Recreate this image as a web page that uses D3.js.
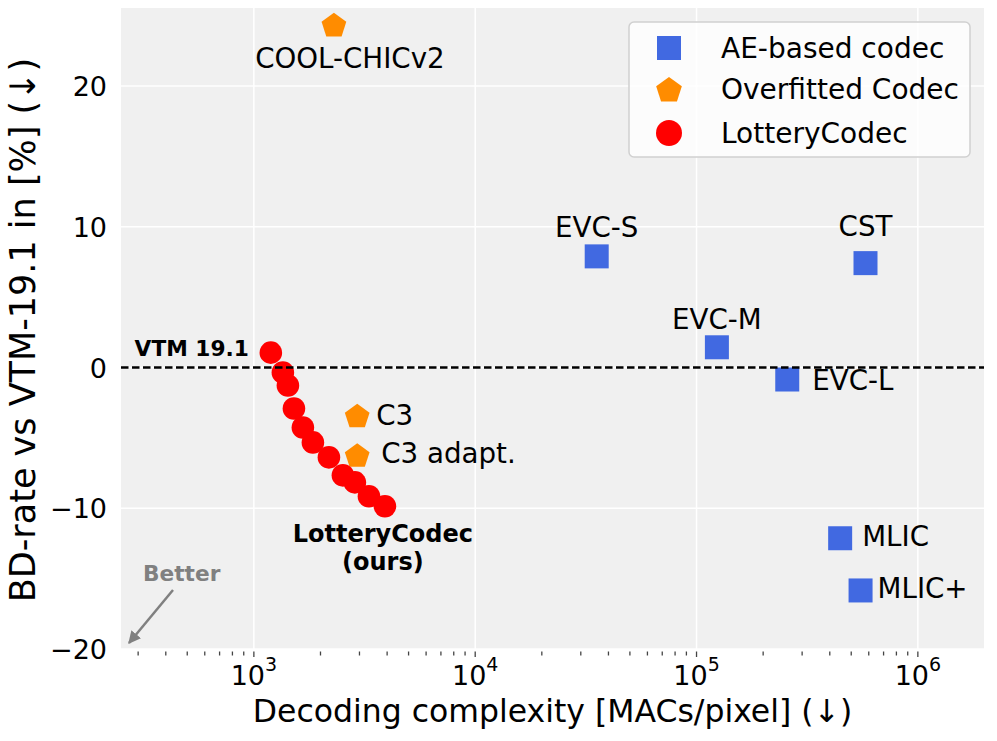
<!DOCTYPE html>
<html>
<head>
<meta charset="utf-8">
<script src="https://cdn.jsdelivr.net/npm/d3@7"></script>
<style>
  body { margin: 0; background: #fff; }
  text { font-family: "DejaVu Sans", sans-serif; }
</style>
</head>
<body>
<svg id="chart" width="997" height="741"></svg>
<script>
// LotteryCodec operating points
var lotteryMacs = [1193, 1352, 1425, 1517, 1665, 1848, 2183, 2525, 2860, 3311, 3909];
var lotteryBd = [1.06, -0.35, -1.28, -2.91, -4.26, -5.32, -6.38, -7.66, -8.16, -9.15, -9.86];

// AE-based codecs
var aeNames = ["EVC-S", "EVC-M", "EVC-L", "CST", "MLIC", "MLIC+"];
var aeMacs = [35400, 123600, 257000, 580000, 445600, 551000];
var aeBd = [7.9, 1.44, -0.85, 7.42, -12.13, -15.84];

// overfitted codecs
var ofNames = ["COOL-CHICv2", "C3", "C3 adapt."];
var ofMacs = [2300, 2930, 2930];
var ofBd = [24.28, -3.5, -6.31];

var xTicks = [1e3, 1e4, 1e5, 1e6];
var yTicks = [-20, -10, 0, 10, 20];
var legendLabels = ["AE-based codec", "Overfitted Codec", "LotteryCodec"];

// label placement (pixel offsets from the point)
var labelPos = {
  "COOL-CHICv2": [16, 42, "middle"],
  "C3": [19, 8, "start"],
  "C3 adapt.": [24, 7, "start"],
  "EVC-S": [0, -19, "middle"],
  "EVC-M": [0, -18, "middle"],
  "EVC-L": [25, 10, "start"],
  "CST": [0, -27, "middle"],
  "MLIC": [22, 8, "start"],
  "MLIC+": [17, 8, "start"]
};

var blue = "#4169e1", orange = "#ff8c00", red = "#ff0000";

var svg = d3.select("#chart");
var m = {left: 121, right: 984, top: 8, bottom: 649};

var x = d3.scaleLog().domain([251, 1.99e6]).range([m.left, m.right]);
var y = d3.scaleLinear().domain([-20, 25.55]).range([m.bottom, m.top]);

svg.append("rect")
   .attr("x", m.left).attr("y", m.top)
   .attr("width", m.right - m.left).attr("height", m.bottom - m.top)
   .attr("fill", "#f0f0f0");

// grid
var grid = svg.append("g");
grid.selectAll(".gx").data(xTicks).enter().append("line")
    .attr("x1", function(d) { return x(d); }).attr("x2", function(d) { return x(d); })
    .attr("y1", m.top).attr("y2", m.bottom)
    .attr("stroke", "#fff").attr("stroke-width", 1.5);
grid.selectAll(".gy").data(yTicks).enter().append("line")
    .attr("x1", m.left).attr("x2", m.right)
    .attr("y1", function(d) { return y(d); }).attr("y2", function(d) { return y(d); })
    .attr("stroke", "#fff").attr("stroke-width", 1.5);

// x axis ticks (major + minor)
var allTicks = x.ticks().filter(function(d) { return d >= 251 && d <= 1.99e6; });
svg.append("g").selectAll("line").data(allTicks).enter().append("line")
   .attr("x1", function(d) { return x(d); }).attr("x2", function(d) { return x(d); })
   .attr("y1", m.bottom + 2.5)
   .attr("y2", function(d) { return xTicks.indexOf(d) >= 0 ? m.bottom + 8 : m.bottom + 6.5; })
   .attr("stroke", "#444").attr("stroke-width", 1.3);

var xl = svg.append("g").selectAll("text").data(xTicks).enter().append("text")
   .attr("x", function(d) { return x(d); })
   .attr("y", 685)
   .attr("text-anchor", "middle")
   .attr("font-size", 27);
xl.append("tspan").text("10");
xl.append("tspan").attr("dy", -14).attr("font-size", 19)
  .text(function(d) { return Math.round(Math.log10(d)); });

svg.append("g").selectAll("text").data(yTicks).enter().append("text")
   .attr("x", 107)
   .attr("y", function(d) { return y(d) + 10; })
   .attr("text-anchor", "end")
   .attr("font-size", 27)
   .text(function(d) { return d < 0 ? "\u2212" + Math.abs(d) : d; });

svg.append("text")
   .attr("x", (m.left + m.right) / 2).attr("y", 722)
   .attr("text-anchor", "middle").attr("font-size", 31.5)
   .text("Decoding complexity [MACs/pixel] (\u2193)");

svg.append("text")
   .attr("transform", "translate(35,330) rotate(-90)")
   .attr("text-anchor", "middle").attr("font-size", 35)
   .text("BD-rate vs VTM-19.1 in [%] (\u2193)");

function pentagon(r) {
  var pts = d3.range(5).map(function(i) {
    var a = -Math.PI / 2 + i * 2 * Math.PI / 5;
    return [r * Math.cos(a), r * Math.sin(a)];
  });
  return "M" + pts.join("L") + "Z";
}

// AE squares
svg.append("g").selectAll("rect").data(aeNames).enter().append("rect")
   .attr("x", function(d, i) { return x(aeMacs[i]) - 12; })
   .attr("y", function(d, i) { return y(aeBd[i]) - 12; })
   .attr("width", 24).attr("height", 24)
   .attr("fill", blue);

// overfitted pentagons
svg.append("g").selectAll("path").data(ofNames).enter().append("path")
   .attr("transform", function(d, i) { return "translate(" + x(ofMacs[i]) + "," + y(ofBd[i]) + ")"; })
   .attr("d", pentagon(13))
   .attr("fill", orange);

// LotteryCodec
svg.append("g").selectAll("circle").data(lotteryMacs).enter().append("circle")
   .attr("cx", function(d) { return x(d); })
   .attr("cy", function(d, i) { return y(lotteryBd[i]); })
   .attr("r", 11.3)
   .attr("fill", red);

// VTM reference
svg.append("line")
   .attr("x1", m.left).attr("x2", m.right)
   .attr("y1", y(0)).attr("y2", y(0))
   .attr("stroke", "#000").attr("stroke-width", 2.5)
   .attr("stroke-dasharray", "7.5,3.5");

// point labels
function addLabels(names, xs, ys) {
  svg.append("g").selectAll("text").data(names).enter().append("text")
     .attr("x", function(d, i) { return x(xs[i]) + labelPos[d][0]; })
     .attr("y", function(d, i) { return y(ys[i]) + labelPos[d][1]; })
     .attr("text-anchor", function(d) { return labelPos[d][2]; })
     .attr("font-size", 27.7)
     .text(function(d) { return d; });
}
addLabels(aeNames, aeMacs, aeBd);
addLabels(ofNames, ofMacs, ofBd);

svg.append("text")
   .attr("x", x(lotteryMacs[0]) - 22).attr("y", y(lotteryBd[0]) + 3)
   .attr("text-anchor", "end").attr("font-size", 21.7).attr("font-weight", "bold")
   .text("VTM 19.1");

var last = lotteryMacs.length - 1;
var ours = svg.append("text")
   .attr("x", x(lotteryMacs[last]) - 2).attr("y", y(lotteryBd[last]) + 36)
   .attr("text-anchor", "middle").attr("font-size", 24).attr("font-weight", "bold");
ours.append("tspan").text("LotteryCodec");
ours.append("tspan").attr("x", x(lotteryMacs[last]) - 2).attr("dy", 28).text("(ours)");

// "Better" arrow
svg.append("defs").append("marker")
   .attr("id", "head").attr("viewBox", "0 0 10 10")
   .attr("refX", 9).attr("refY", 5)
   .attr("markerWidth", 5).attr("markerHeight", 5)
   .attr("markerUnits", "strokeWidth")
   .attr("orient", "auto")
   .append("path").attr("d", "M0,0L10,5L0,10Z").attr("fill", "#808080");

svg.append("line")
   .attr("x1", 173).attr("y1", 590).attr("x2", 129).attr("y2", 643)
   .attr("stroke", "#808080").attr("stroke-width", 2.5)
   .attr("marker-end", "url(#head)");

svg.append("text")
   .attr("x", 143).attr("y", 581)
   .attr("font-size", 21.7).attr("font-weight", "bold").attr("fill", "#808080")
   .text("Better");

// legend
var lg = svg.append("g");
lg.append("rect")
  .attr("x", 629).attr("y", 22).attr("width", 341).attr("height", 135)
  .attr("rx", 5)
  .attr("fill", "#fff").attr("fill-opacity", 0.8)
  .attr("stroke", "#d0d0d0").attr("stroke-width", 1.5);

var rowY = [48, 89.5, 133];
lg.append("rect").attr("x", 657).attr("y", rowY[0] - 12).attr("width", 24).attr("height", 24).attr("fill", blue);
lg.append("path").attr("transform", "translate(669," + (rowY[1] + 1) + ")").attr("d", pentagon(13.5)).attr("fill", orange);
lg.append("circle").attr("cx", 669).attr("cy", rowY[2]).attr("r", 13).attr("fill", red);

lg.selectAll(".lt").data(legendLabels).enter().append("text")
  .attr("x", 721)
  .attr("y", function(d, i) { return rowY[i] + 9.5; })
  .attr("font-size", 28)
  .text(function(d) { return d; });
</script>
</body>
</html>
